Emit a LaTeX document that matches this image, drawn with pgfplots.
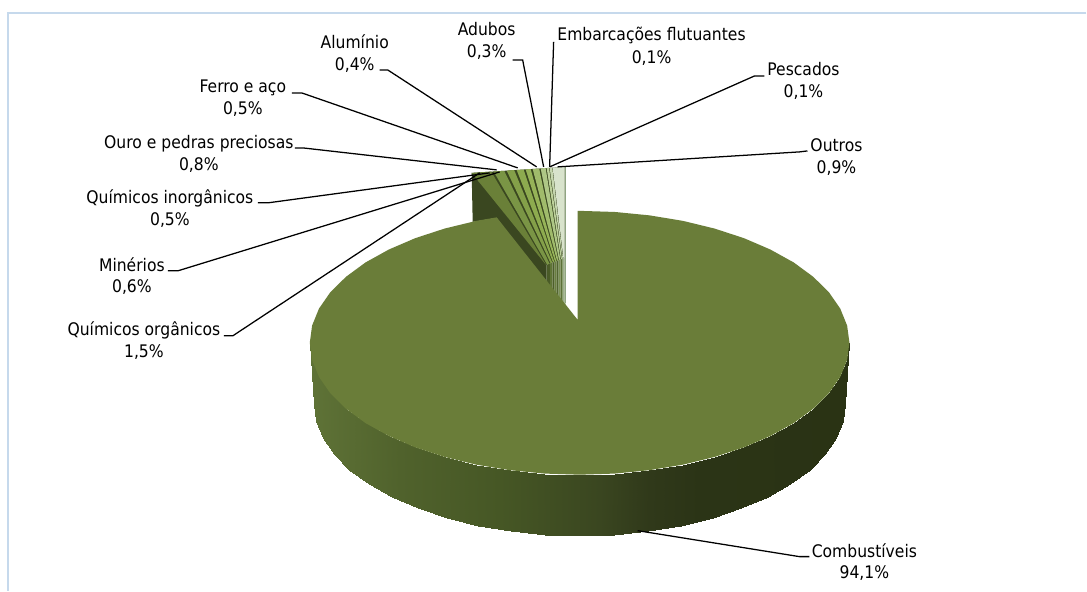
\documentclass[border=0pt]{standalone}
\usepackage{fontspec}
\setmainfont{DejaVu Sans Condensed}
\usepackage{pgfplots}
\pgfplotsset{compat=1.18}
\definecolor{frame}{HTML}{C6D9EC}
\definecolor{mainc}{HTML}{6A7D39}
\definecolor{wall}{HTML}{3A4720}
\newcommand{\lab}[3]{\node[anchor=base,font=\fontsize{13}{15}\selectfont,inner sep=0pt] at (axis cs:#1,#2) {#3};}
\begin{document}
\begin{tikzpicture}
\begin{axis}[
  scale only axis, width=815.25pt, height=443.25pt,
  xmin=0, xmax=1087, ymin=0, ymax=591, y dir=reverse,
  hide axis, clip=false,
  colormap={pie}{rgb255(310pt)=(95,115,55) rgb255(400pt)=(80,98,44) rgb255(500pt)=(70,87,37) rgb255(600pt)=(58,70,32) rgb255(650pt)=(48,57,26) rgb255(700pt)=(43,52,22) rgb255(850pt)=(42,51,20)},
  point meta min=310, point meta max=850,
]
% page
\addplot[draw=none,fill=white] coordinates {(0,0)(1087,0)(1087,591)(0,591)} --cycle;
% frame
\addplot[frame,line width=1.1pt] coordinates {(1087,13)(8,13)(8,591)};

% rim of the large slice
\addplot[surf,shader=interp,mesh/rows=2,point meta=x] coordinates {
(850,343)(847.7,360.2)(840.8,377.2)(829.5,393.5)(813.8,409)(794.2,423.4)(770.9,436.3)(744.4,447.7)(715,457.3)(683.3,465)(649.9,470.5)(615.2,473.9)(580,475)(544.8,473.9)(510.1,470.5)(476.7,465)(445,457.3)(415.6,447.7)(389.1,436.3)(365.8,423.4)(346.2,409)(330.5,393.5)(319.2,377.2)(312.3,360.2)(310,343)

(846,404)(843.7,421.2)(836.9,438.2)(825.8,454.5)(810.4,470)(791,484.4)(768.1,497.3)(741.9,508.7)(713,518.3)(681.8,526)(648.8,531.5)(614.7,534.9)(580,536)(545.3,534.9)(511.2,531.5)(478.2,526)(447,518.3)(418.1,508.7)(391.9,497.3)(369,484.4)(349.6,470)(334.2,454.5)(323.1,438.2)(316.3,421.2)(314,404)
};

% lower strips of the small slices
\addplot[draw=none,fill=wall] coordinates {(472,173)(473,222)(497,218)(547,285)(547,262)} --cycle;
\addplot[draw=none,fill=wall] coordinates {(472,173)(565,167)(565,258)(547,265)} --cycle;
\addplot[draw=none,fill={rgb,255:red,74;green,91;blue,40}] coordinates {(547,265)(550.5,263.6)(550.5,310)(547,310)} --cycle;
\addplot[draw=none,fill={rgb,255:red,96;green,117;blue,54}] coordinates {(550.5,263.6)(553,262.7)(553,310)(550.5,310)} --cycle;
\addplot[draw=none,fill={rgb,255:red,77;green,94;blue,42}] coordinates {(553,262.7)(555,261.9)(555,310)(553,310)} --cycle;
\addplot[draw=none,fill={rgb,255:red,106;green,128;blue,64}] coordinates {(555,261.9)(557,261.1)(557,310)(555,310)} --cycle;
\addplot[draw=none,fill={rgb,255:red,82;green,101;blue,48}] coordinates {(557,261.1)(559,260.3)(559,310)(557,310)} --cycle;
\addplot[draw=none,fill={rgb,255:red,122;green,144;blue,85}] coordinates {(559,260.3)(561,259.6)(561,310)(559,310)} --cycle;
\addplot[draw=none,fill={rgb,255:red,92;green,112;blue,56}] coordinates {(561,259.6)(562.5,259)(562.5,310)(561,310)} --cycle;
\addplot[draw=none,fill={rgb,255:red,138;green,160;blue,112}] coordinates {(562.5,259)(563.5,258.6)(563.5,310)(562.5,310)} --cycle;
\addplot[draw=none,fill={rgb,255:red,107;green,128;blue,80}] coordinates {(563.5,258.6)(564,258.4)(564,310)(563.5,310)} --cycle;
\addplot[draw=none,fill={rgb,255:red,169;green,187;blue,152}] coordinates {(564,258.4)(566,258)(566,310)(564,310)} --cycle;

% top faces of the small slices
\addplot[draw=none,fill={rgb,255:red,106;green,128;blue,56}] coordinates {(472,173)(491.5,171.7)(546.5,265.2)} --cycle;
\addplot[draw=none,fill={rgb,255:red,122;green,149;blue,69}] coordinates {(494,171.6)(504.5,170.9)(550,263.8)(547.5,264.8)} --cycle;
\addplot[draw=none,fill={rgb,255:red,132;green,160;blue,73}] coordinates {(507,170.7)(514.5,170.2)(552.6,262.8)(551,263.4)} --cycle;
\addplot[draw=none,fill={rgb,255:red,141;green,171;blue,79}] coordinates {(517,170.1)(524,169.6)(554.7,262)(553.4,262.5)} --cycle;
\addplot[draw=none,fill={rgb,255:red,150;green,179;blue,88}] coordinates {(526,169.5)(531,169.2)(556.7,261.2)(555.4,261.7)} --cycle;
\addplot[draw=none,fill={rgb,255:red,160;green,187;blue,107}] coordinates {(533,169.1)(539.5,168.6)(558.7,260.4)(557.4,260.9)} --cycle;
\addplot[draw=none,fill={rgb,255:red,174;green,199;blue,134}] coordinates {(541,168.5)(546,168.2)(560.7,259.7)(559.4,260.1)} --cycle;
\addplot[draw=none,fill={rgb,255:red,188;green,208;blue,154}] coordinates {(547,168.2)(549.4,168)(562.3,259.1)(561.3,259.5)} --cycle;
\addplot[draw=none,fill={rgb,255:red,197;green,214;blue,174}] coordinates {(550,168)(552.6,167.8)(563.4,258.7)(562.8,258.9)} --cycle;
\addplot[draw=none,fill={rgb,255:red,216;green,227;blue,204}] coordinates {(553,167.8)(565,167)(565,258)(563.8,258.5)} --cycle;
\addplot[color={rgb,255:red,143;green,165;blue,130},line width=0.9pt] coordinates {(565.7,167)(565.7,303)};

% large slice top face
\addplot[draw=none,fill=mainc] coordinates {
(578,211)(580,211)(615.2,212.1)(649.9,215.5)(683.3,221)(715,228.7)(744.4,238.3)(770.9,249.7)(794.2,262.6)(813.8,277)(829.5,292.5)(840.8,308.8)(847.7,325.8)(850,343)
(847.7,360.2)(840.8,377.2)(829.5,393.5)(813.8,409)(794.2,423.4)(770.9,436.3)(744.4,447.7)(715,457.3)(683.3,465)(649.9,470.5)(615.2,473.9)(580,475)
(544.8,473.9)(510.1,470.5)(476.7,465)(445,457.3)(415.6,447.7)(389.1,436.3)(365.8,423.4)(346.2,409)(330.5,393.5)(319.2,377.2)(312.3,360.2)(310,343)
(312.3,325.8)(319.2,308.8)(330.5,292.5)(346.2,277)(365.8,262.6)(389.1,249.7)(415.6,238.3)(445,228.7)(476.7,221)(497,217.5)
(578,320)} --cycle;

% leader lines
\addplot[black,line width=0.95pt] coordinates {(810,557)(800,557)(638,531)};
\addplot[black,line width=0.95pt] coordinates {(224,336)(233,336)(480,173)};
\addplot[black,line width=0.95pt] coordinates {(168,271)(178,271)(500,172)};
\addplot[black,line width=0.95pt] coordinates {(258,203)(268,203)(490,173)};
\addplot[black,line width=0.95pt] coordinates {(295,148)(303,148)(497,170)};
\addplot[black,line width=0.95pt] coordinates {(292,93)(302,93)(518,168)};
\addplot[black,line width=0.95pt] coordinates {(380,70)(388,70)(537,167)};
\addplot[black,line width=0.95pt] coordinates {(513,60)(523,60)(544,167)};
\addplot[black,line width=0.95pt] coordinates {(554,42)(550,167)};
\addplot[black,line width=0.95pt] coordinates {(765,76)(755,76)(550,167)};
\addplot[black,line width=0.95pt] coordinates {(808,151)(800,152)(558,167)};

% labels
\lab{865}{558}{Combustíveis}
\lab{865}{579}{94,1\%}
\lab{652}{41}{Embarcações flutuantes}
\lab{652}{64}{0,1\%}
\lab{804}{76}{Pescados}
\lab{804}{98}{0,1\%}
\lab{837}{152}{Outros}
\lab{837}{174}{0,9\%}
\lab{487}{36}{Adubos}
\lab{487}{58}{0,3\%}
\lab{355}{49}{Alumínio}
\lab{355}{71}{0,4\%}
\lab{243}{93}{Ferro e aço}
\lab{243}{115}{0,5\%}
\lab{199}{149}{Ouro e pedras preciosas}
\lab{199}{171}{0,8\%}
\lab{170}{204}{Químicos inorgânicos}
\lab{170}{226}{0,5\%}
\lab{132}{272}{Minérios}
\lab{132}{293}{0,6\%}
\lab{144}{336}{Químicos orgânicos}
\lab{144}{358}{1,5\%}
\end{axis}
\end{tikzpicture}
\end{document}
